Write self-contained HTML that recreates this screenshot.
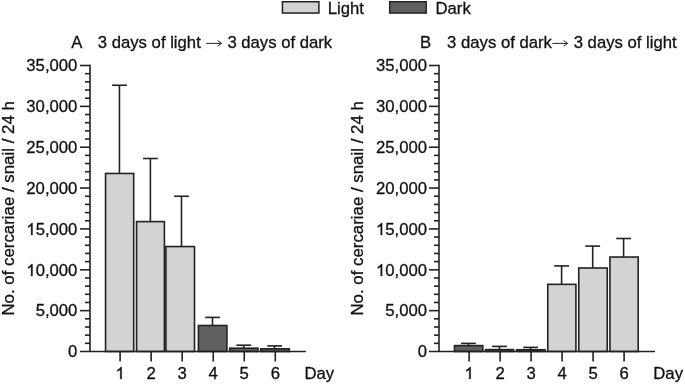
<!DOCTYPE html>
<html><head><meta charset="utf-8"><style>
html,body{margin:0;padding:0;background:#fff;}
svg{display:block;will-change:transform;}
text{font-family:"Liberation Sans",sans-serif;font-size:16.7px;fill:#111;stroke:#111;stroke-width:0.3px;}
</style></head><body>
<svg width="685" height="384" viewBox="0 0 685 384">
<g stroke="#222" stroke-width="1.6" fill="none" stroke-linecap="butt">
<line x1="119.45" y1="173.45" x2="119.45" y2="85.25" />
<line x1="112.05" y1="85.25" x2="126.85" y2="85.25" />
<rect x="105.55" y="173.45" width="28.15" height="178.05" fill="#d3d3d3" />
<line x1="150.4" y1="221.6" x2="150.4" y2="158.5" />
<line x1="143.00" y1="158.5" x2="157.80" y2="158.5" />
<rect x="136.55" y="221.6" width="27.85" height="129.90" fill="#d3d3d3" />
<line x1="181.5" y1="246.55" x2="181.5" y2="196.25" />
<line x1="174.10" y1="196.25" x2="188.90" y2="196.25" />
<rect x="165.9" y="246.55" width="28.60" height="104.95" fill="#d3d3d3" />
<line x1="212.5" y1="325.5" x2="212.5" y2="317.4" />
<line x1="205.10" y1="317.4" x2="219.90" y2="317.4" />
<rect x="198.4" y="325.5" width="28.50" height="26.00" fill="#606060" />
<line x1="243.75" y1="348.2" x2="243.75" y2="345.2" />
<line x1="236.35" y1="345.2" x2="251.15" y2="345.2" />
<rect x="229.7" y="348.2" width="28.30" height="3.30" fill="#606060" />
<line x1="274.6" y1="348.8" x2="274.6" y2="345.9" />
<line x1="267.20" y1="345.9" x2="282.00" y2="345.9" />
<rect x="260.7" y="348.8" width="28.60" height="2.70" fill="#606060" />
<line x1="90.0" y1="64.70" x2="90.0" y2="351.5" />
<line x1="80.00" y1="310.64" x2="90.0" y2="310.64" />
<line x1="80.00" y1="269.79" x2="90.0" y2="269.79" />
<line x1="80.00" y1="228.93" x2="90.0" y2="228.93" />
<line x1="80.00" y1="188.07" x2="90.0" y2="188.07" />
<line x1="80.00" y1="147.22" x2="90.0" y2="147.22" />
<line x1="80.00" y1="106.36" x2="90.0" y2="106.36" />
<line x1="80.00" y1="65.50" x2="90.0" y2="65.50" />
<line x1="85.00" y1="343.33" x2="90.0" y2="343.33" />
<line x1="85.00" y1="335.16" x2="90.0" y2="335.16" />
<line x1="85.00" y1="326.99" x2="90.0" y2="326.99" />
<line x1="85.00" y1="318.81" x2="90.0" y2="318.81" />
<line x1="85.00" y1="302.47" x2="90.0" y2="302.47" />
<line x1="85.00" y1="294.30" x2="90.0" y2="294.30" />
<line x1="85.00" y1="286.13" x2="90.0" y2="286.13" />
<line x1="85.00" y1="277.96" x2="90.0" y2="277.96" />
<line x1="85.00" y1="261.61" x2="90.0" y2="261.61" />
<line x1="85.00" y1="253.44" x2="90.0" y2="253.44" />
<line x1="85.00" y1="245.27" x2="90.0" y2="245.27" />
<line x1="85.00" y1="237.10" x2="90.0" y2="237.10" />
<line x1="85.00" y1="220.76" x2="90.0" y2="220.76" />
<line x1="85.00" y1="212.59" x2="90.0" y2="212.59" />
<line x1="85.00" y1="204.41" x2="90.0" y2="204.41" />
<line x1="85.00" y1="196.24" x2="90.0" y2="196.24" />
<line x1="85.00" y1="179.90" x2="90.0" y2="179.90" />
<line x1="85.00" y1="171.73" x2="90.0" y2="171.73" />
<line x1="85.00" y1="163.56" x2="90.0" y2="163.56" />
<line x1="85.00" y1="155.39" x2="90.0" y2="155.39" />
<line x1="85.00" y1="139.04" x2="90.0" y2="139.04" />
<line x1="85.00" y1="130.87" x2="90.0" y2="130.87" />
<line x1="85.00" y1="122.70" x2="90.0" y2="122.70" />
<line x1="85.00" y1="114.53" x2="90.0" y2="114.53" />
<line x1="85.00" y1="98.19" x2="90.0" y2="98.19" />
<line x1="85.00" y1="90.02" x2="90.0" y2="90.02" />
<line x1="85.00" y1="81.84" x2="90.0" y2="81.84" />
<line x1="85.00" y1="73.67" x2="90.0" y2="73.67" />
<line x1="80.00" y1="351.5" x2="305.9" y2="351.5" />
<line x1="120.1" y1="351.5" x2="120.1" y2="361.5" />
<line x1="151.14" y1="351.5" x2="151.14" y2="361.5" />
<line x1="182.18" y1="351.5" x2="182.18" y2="361.5" />
<line x1="213.22" y1="351.5" x2="213.22" y2="361.5" />
<line x1="244.26" y1="351.5" x2="244.26" y2="361.5" />
<line x1="275.3" y1="351.5" x2="275.3" y2="361.5" />
<line x1="468.45" y1="345.6" x2="468.45" y2="343.4" />
<line x1="461.05" y1="343.4" x2="475.85" y2="343.4" />
<rect x="454.5" y="345.6" width="28.30" height="5.90" fill="#606060" />
<line x1="499.5" y1="349.6" x2="499.5" y2="346.4" />
<line x1="492.10" y1="346.4" x2="506.90" y2="346.4" />
<rect x="485.5" y="349.6" width="28.00" height="1.90" fill="#606060" />
<line x1="530.6" y1="349.75" x2="530.6" y2="347.4" />
<line x1="523.20" y1="347.4" x2="538.00" y2="347.4" />
<rect x="516.6" y="349.75" width="28.40" height="1.75" fill="#606060" />
<line x1="561.6" y1="284.35" x2="561.6" y2="265.9" />
<line x1="554.20" y1="265.9" x2="569.00" y2="265.9" />
<rect x="547.75" y="284.35" width="28.15" height="67.15" fill="#d3d3d3" />
<line x1="592.7" y1="268.0" x2="592.7" y2="246.1" />
<line x1="585.30" y1="246.1" x2="600.10" y2="246.1" />
<rect x="578.75" y="268.0" width="28.50" height="83.50" fill="#d3d3d3" />
<line x1="623.6" y1="257.05" x2="623.6" y2="238.5" />
<line x1="616.20" y1="238.5" x2="631.00" y2="238.5" />
<rect x="609.95" y="257.05" width="28.25" height="94.45" fill="#d3d3d3" />
<line x1="439.0" y1="64.70" x2="439.0" y2="351.5" />
<line x1="429.00" y1="310.64" x2="439.0" y2="310.64" />
<line x1="429.00" y1="269.79" x2="439.0" y2="269.79" />
<line x1="429.00" y1="228.93" x2="439.0" y2="228.93" />
<line x1="429.00" y1="188.07" x2="439.0" y2="188.07" />
<line x1="429.00" y1="147.22" x2="439.0" y2="147.22" />
<line x1="429.00" y1="106.36" x2="439.0" y2="106.36" />
<line x1="429.00" y1="65.50" x2="439.0" y2="65.50" />
<line x1="434.00" y1="343.33" x2="439.0" y2="343.33" />
<line x1="434.00" y1="335.16" x2="439.0" y2="335.16" />
<line x1="434.00" y1="326.99" x2="439.0" y2="326.99" />
<line x1="434.00" y1="318.81" x2="439.0" y2="318.81" />
<line x1="434.00" y1="302.47" x2="439.0" y2="302.47" />
<line x1="434.00" y1="294.30" x2="439.0" y2="294.30" />
<line x1="434.00" y1="286.13" x2="439.0" y2="286.13" />
<line x1="434.00" y1="277.96" x2="439.0" y2="277.96" />
<line x1="434.00" y1="261.61" x2="439.0" y2="261.61" />
<line x1="434.00" y1="253.44" x2="439.0" y2="253.44" />
<line x1="434.00" y1="245.27" x2="439.0" y2="245.27" />
<line x1="434.00" y1="237.10" x2="439.0" y2="237.10" />
<line x1="434.00" y1="220.76" x2="439.0" y2="220.76" />
<line x1="434.00" y1="212.59" x2="439.0" y2="212.59" />
<line x1="434.00" y1="204.41" x2="439.0" y2="204.41" />
<line x1="434.00" y1="196.24" x2="439.0" y2="196.24" />
<line x1="434.00" y1="179.90" x2="439.0" y2="179.90" />
<line x1="434.00" y1="171.73" x2="439.0" y2="171.73" />
<line x1="434.00" y1="163.56" x2="439.0" y2="163.56" />
<line x1="434.00" y1="155.39" x2="439.0" y2="155.39" />
<line x1="434.00" y1="139.04" x2="439.0" y2="139.04" />
<line x1="434.00" y1="130.87" x2="439.0" y2="130.87" />
<line x1="434.00" y1="122.70" x2="439.0" y2="122.70" />
<line x1="434.00" y1="114.53" x2="439.0" y2="114.53" />
<line x1="434.00" y1="98.19" x2="439.0" y2="98.19" />
<line x1="434.00" y1="90.02" x2="439.0" y2="90.02" />
<line x1="434.00" y1="81.84" x2="439.0" y2="81.84" />
<line x1="434.00" y1="73.67" x2="439.0" y2="73.67" />
<line x1="429.00" y1="351.5" x2="655.0" y2="351.5" />
<line x1="469.1" y1="351.5" x2="469.1" y2="361.5" />
<line x1="500.1" y1="351.5" x2="500.1" y2="361.5" />
<line x1="531.1" y1="351.5" x2="531.1" y2="361.5" />
<line x1="562.1" y1="351.5" x2="562.1" y2="361.5" />
<line x1="593.1" y1="351.5" x2="593.1" y2="361.5" />
<line x1="624.1" y1="351.5" x2="624.1" y2="361.5" />
<rect x="282.45" y="1.75" width="36.45" height="11.3" fill="#d3d3d3" stroke-width="1.5"/>
<rect x="389.7" y="1.75" width="36.5" height="11.3" fill="#606060" stroke-width="1.5"/>
</g>
<path d="M206.3,43.4 H221.5" stroke="#222" stroke-width="1.0" fill="none"/><path d="M217.6,40.6 L221.6,43.4 L217.6,46.199999999999996" stroke="#222" stroke-width="1.0" fill="none" stroke-linejoin="round"/>
<path d="M552.3,43.4 H567.5" stroke="#222" stroke-width="1.0" fill="none"/><path d="M563.6,40.6 L567.6,43.4 L563.6,46.199999999999996" stroke="#222" stroke-width="1.0" fill="none" stroke-linejoin="round"/>
<g>
<text x="77.4" y="357" text-anchor="end">0</text>
<text x="77.4" y="316" text-anchor="end">5,000</text>
<text x="77.4" y="276" text-anchor="end">0,000</text>
<path transform="translate(26.33,276) scale(0.008154,-0.008154)" d="M763,0H583V1147Q518,1085 412,1023T220,930V1104Q371,1175 484,1276T644,1472H763Z" fill="#111" stroke="#111" stroke-width="36.8"/>
<text x="77.4" y="235" text-anchor="end">5,000</text>
<path transform="translate(26.33,235) scale(0.008154,-0.008154)" d="M763,0H583V1147Q518,1085 412,1023T220,930V1104Q371,1175 484,1276T644,1472H763Z" fill="#111" stroke="#111" stroke-width="36.8"/>
<text x="77.4" y="194" text-anchor="end">20,000</text>
<text x="77.4" y="153" text-anchor="end">25,000</text>
<text x="77.4" y="112" text-anchor="end">30,000</text>
<text x="77.4" y="71" text-anchor="end">35,000</text>
<path transform="translate(115.46,379) scale(0.008154,-0.008154)" d="M763,0H583V1147Q518,1085 412,1023T220,930V1104Q371,1175 484,1276T644,1472H763Z" fill="#111" stroke="#111" stroke-width="36.8"/>
<text x="151.14" y="379" text-anchor="middle">2</text>
<text x="182.18" y="379" text-anchor="middle">3</text>
<text x="213.22" y="379" text-anchor="middle">4</text>
<text x="244.26" y="379" text-anchor="middle">5</text>
<text x="275.3" y="379" text-anchor="middle">6</text>
<text x="304.5" y="379">Day</text>
<text transform="translate(13.6,208.4) rotate(-90)" text-anchor="middle" style="font-size:16.85px">No. of cercariae / snail / 24 h</text>
<text x="427.0" y="357" text-anchor="end">0</text>
<text x="427.0" y="316" text-anchor="end">5,000</text>
<text x="427.0" y="276" text-anchor="end">0,000</text>
<path transform="translate(375.93,276) scale(0.008154,-0.008154)" d="M763,0H583V1147Q518,1085 412,1023T220,930V1104Q371,1175 484,1276T644,1472H763Z" fill="#111" stroke="#111" stroke-width="36.8"/>
<text x="427.0" y="235" text-anchor="end">5,000</text>
<path transform="translate(375.93,235) scale(0.008154,-0.008154)" d="M763,0H583V1147Q518,1085 412,1023T220,930V1104Q371,1175 484,1276T644,1472H763Z" fill="#111" stroke="#111" stroke-width="36.8"/>
<text x="427.0" y="194" text-anchor="end">20,000</text>
<text x="427.0" y="153" text-anchor="end">25,000</text>
<text x="427.0" y="112" text-anchor="end">30,000</text>
<text x="427.0" y="71" text-anchor="end">35,000</text>
<path transform="translate(464.46,379) scale(0.008154,-0.008154)" d="M763,0H583V1147Q518,1085 412,1023T220,930V1104Q371,1175 484,1276T644,1472H763Z" fill="#111" stroke="#111" stroke-width="36.8"/>
<text x="500.1" y="379" text-anchor="middle">2</text>
<text x="531.1" y="379" text-anchor="middle">3</text>
<text x="562.1" y="379" text-anchor="middle">4</text>
<text x="593.1" y="379" text-anchor="middle">5</text>
<text x="624.1" y="379" text-anchor="middle">6</text>
<text x="653.3" y="379">Day</text>
<text transform="translate(362.6,208.4) rotate(-90)" text-anchor="middle" style="font-size:16.85px">No. of cercariae / snail / 24 h</text>
<text x="327.7" y="13.5">Light</text>
<text x="435.5" y="13.5">Dark</text>
<text x="71.2" y="47.6">A</text>
<text x="97.8" y="47.6">3 days of light</text>
<text x="227.4" y="47.6">3 days of dark</text>
<text x="420.0" y="47.6">B</text>
<text x="447.1" y="47.6">3 days of dark</text>
<text x="573.7" y="47.6">3 days of light</text>
</g>
</svg>
</body></html>
